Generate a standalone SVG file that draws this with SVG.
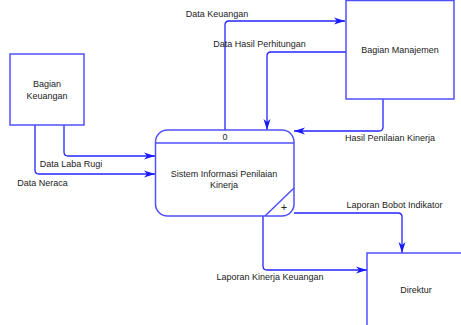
<svg xmlns="http://www.w3.org/2000/svg" width="461" height="325" viewBox="0 0 461 325">
<style>
.box{fill:#fff;stroke:#5050ff;stroke-width:1.5}
.ln{fill:none;stroke:#2424ff;stroke-width:1.3}
text{font-family:"Liberation Sans",Arial,sans-serif;font-size:9px;fill:#222;text-anchor:middle}
</style>
<defs>
<marker id="ah" markerWidth="12" markerHeight="8" refX="11" refY="4" orient="auto" markerUnits="userSpaceOnUse">
<path d="M0,0.5 L11,4 L0,7.5 L3,4 Z" fill="#1a1aff"/>
</marker>
</defs>
<rect width="461" height="325" fill="#fff"/>
<g id="connectors">
<path class="ln" d="M225,130 V25 Q225,21 229,21 H345" marker-end="url(#ah)"/>
<path class="ln" d="M346,52 H271 Q267,52 267,56 V130" marker-end="url(#ah)"/>
<path class="ln" d="M383,99 V127 Q383,131 379,131 H294" marker-end="url(#ah)"/>
<path class="ln" d="M64,125 V152 Q64,156 68,156 H155" marker-end="url(#ah)"/>
<path class="ln" d="M35,125 V170 Q35,174 39,174 H155" marker-end="url(#ah)"/>
<path class="ln" d="M294,213 H398 Q402,213 402,217 V253" marker-end="url(#ah)"/>
<path class="ln" d="M263,216 V266 Q263,270 267,270 H367" marker-end="url(#ah)"/>
<text x="217" y="16.5">Data Keuangan</text>
<text x="259.5" y="47">Data Hasil Perhitungan</text>
<text x="390" y="141">Hasil Penilaian Kinerja</text>
<text x="71" y="167">Data Laba Rugi</text>
<text x="42.5" y="186">Data Neraca</text>
<text x="394.5" y="208">Laporan Bobot Indikator</text>
<text x="270" y="280">Laporan Kinerja Keuangan</text>
</g>
<g id="bagian-keuangan">
<rect class="box" x="10" y="54" width="74" height="71"/>
<text x="47" y="87">Bagian</text>
<text x="47" y="99">Keuangan</text>
</g>
<g id="bagian-manajemen">
<rect class="box" x="346" y="0.5" width="108" height="98.5"/>
<text x="400" y="53">Bagian Manajemen</text>
</g>
<g id="direktur">
<rect class="box" x="367" y="253" width="110" height="80"/>
<text x="416" y="293">Direktur</text>
</g>
<g id="process">
<rect class="box" x="155.5" y="130" width="138.5" height="86" rx="12"/>
<line class="box" x1="155.5" y1="143" x2="294" y2="143"/>
<line class="box" x1="294" y1="188" x2="265" y2="216"/>
<text x="225" y="139.5">0</text>
<text x="224" y="176.5">Sistem Informasi Penilaian</text>
<text x="224" y="187.5">Kinerja</text>
<text x="284" y="211" style="font-size:11px">+</text>
</g>
</svg>
